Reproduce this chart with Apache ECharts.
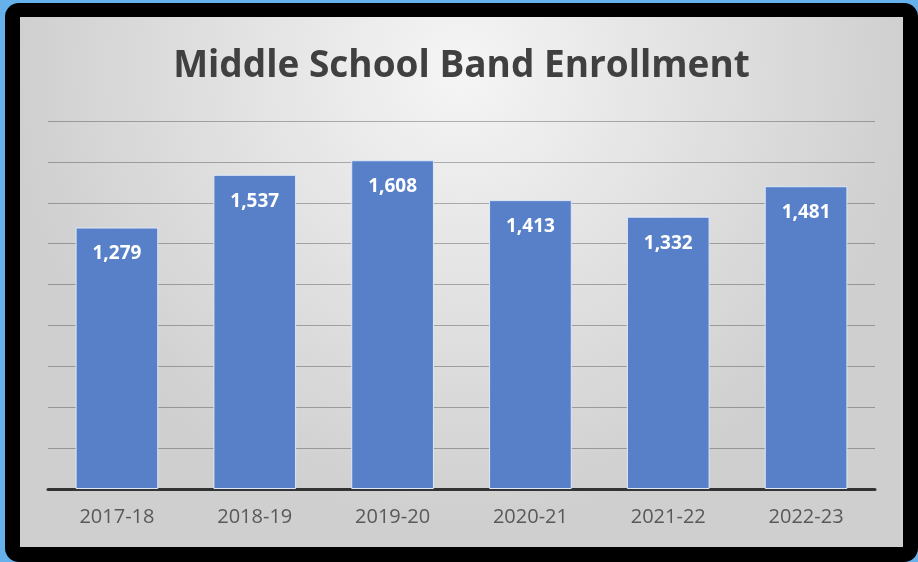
<!DOCTYPE html>
<html>
<head>
<meta charset="utf-8">
<script src="https://cdn.jsdelivr.net/npm/echarts@6/dist/echarts.min.js"></script>
<style>
html,body{margin:0;padding:0;width:918px;height:562px;overflow:hidden;background:#66b1ec;}
#frame{position:absolute;left:5px;top:3px;width:913px;height:559px;background:#000;border-radius:14px;}
#chart{position:absolute;left:20px;top:17px;width:883px;height:530px;}
</style>
</head>
<body>
<div id="frame"></div>
<div id="chart"></div>
<script>
const titleText = 'Middle School Band Enrollment';
const categories = ['2017-18', '2018-19', '2019-20', '2020-21', '2021-22', '2022-23'];
const enrollment = [1279, 1537, 1608, 1413, 1332, 1481];

const chart = echarts.init(document.getElementById('chart'));
chart.setOption({
  animation: false,
  backgroundColor: {
    type: 'radial', x: 0.5, y: 0.1, r: 0.85,
    colorStops: [
      {offset: 0, color: '#f5f5f5'},
      {offset: 1, color: '#cfcfcf'}
    ]
  },
  title: {
    text: titleText,
    left: 'center',
    top: 26,
    textStyle: {fontFamily: 'Open Sans', fontWeight: 'bold', fontSize: 37, color: '#404040'}
  },
  grid: {left: 28, right: 28, top: 104, bottom: 58},
  xAxis: {
    type: 'category',
    data: categories,
    axisLine: {lineStyle: {color: '#333333', width: 3}},
    axisTick: {show: false},
    axisLabel: {fontFamily: 'Open Sans', fontSize: 20, color: '#595959', margin: 18}
  },
  yAxis: {
    type: 'value',
    min: 0, max: 1800, interval: 200,
    axisLabel: {show: false},
    axisLine: {show: false},
    axisTick: {show: false},
    splitLine: {lineStyle: {color: 'rgba(0,0,0,0.28)', width: 1}}
  },
  series: [{
    type: 'bar',
    data: enrollment,
    barWidth: '60%',
    itemStyle: {color: '#5880c8', borderColor: '#dfe8f6', borderWidth: 1},
    label: {
      show: true,
      position: 'insideTop',
      distance: 17,
      color: '#ffffff',
      fontFamily: 'Open Sans',
      fontWeight: 'bold',
      fontSize: 19,
      formatter: p => p.value.toLocaleString('en-US')
    }
  }]
});
</script>
</body>
</html>
